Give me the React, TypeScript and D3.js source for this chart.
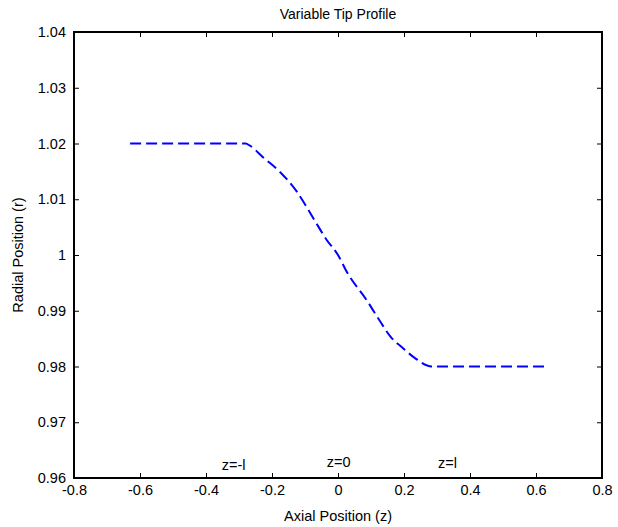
import * as d3 from "d3";
import React, { useEffect, useRef } from "react";

// profile
const zValues = [-0.63, -0.28, -0.2667, -0.2264, -0.1758, -0.1252, -0.0748, -0.0342, 0.0, 0.0264, 0.087, 0.1221, 0.1627, 0.193, 0.2333, 0.284, 0.63];
const rValues = [1.02, 1.02, 1.0196, 1.0175, 1.0149, 1.0114, 1.0066, 1.0027, 1.0, 0.997, 0.9919, 0.9886, 0.9851, 0.9835, 0.9815, 0.98, 0.98];

const xTicks = [-0.8, -0.6, -0.4, -0.2, 0, 0.2, 0.4, 0.6, 0.8];
const yTicks = [0.96, 0.97, 0.98, 0.99, 1, 1.01, 1.02, 1.03, 1.04];

const notes = [
  { text: "z=-l", z: -0.352, r: 0.9614 },
  { text: "z=0", z: -0.034, r: 0.9619 },
  { text: "z=l", z: 0.303, r: 0.9618 },
];

export default function App() {
  const ref = useRef<SVGSVGElement>(null);

  useEffect(() => {
    const svg = d3.select(ref.current);
    svg.selectAll("*").remove();

    const width = 618;
    const height = 527;
    const margin = { top: 32, right: 16, bottom: 49, left: 74 };
    const innerWidth = width - margin.left - margin.right;
    const innerHeight = height - margin.top - margin.bottom;
    const font = "'Liberation Sans', Arial, sans-serif";
    const fontSize = "14.5px";

    const x = d3.scaleLinear().domain([-0.8, 0.8]).range([0, innerWidth]);
    const y = d3.scaleLinear().domain([0.96, 1.04]).range([innerHeight, 0]);

    const g = svg.append("g").attr("transform", `translate(${margin.left},${margin.top})`);

    const fmt = (d: number) => (d === 0 ? "0" : d === 1 ? "1" : String(+d.toFixed(2)));

    const styleAxis = (sel: any, showLabels: boolean) => {
      sel.select(".domain").remove();
      sel.selectAll("line").attr("stroke", "#000").attr("stroke-width", 1);
      sel.selectAll("text").style("font-family", font).style("font-size", fontSize).attr("fill", "#000");
      if (!showLabels) sel.selectAll("text").remove();
    };

    // ticks on all four sides, pointing inward
    g.append("g").attr("transform", `translate(0,${innerHeight})`)
      .call(d3.axisBottom(x).tickValues(xTicks).tickFormat(fmt as any).tickSizeInner(-5).tickSizeOuter(0).tickPadding(7))
      .call((s) => styleAxis(s, true));
    g.append("g")
      .call(d3.axisTop(x).tickValues(xTicks).tickSizeInner(-5).tickSizeOuter(0))
      .call((s) => styleAxis(s, false));
    g.append("g")
      .call(d3.axisLeft(y).tickValues(yTicks).tickFormat(fmt as any).tickSizeInner(-5).tickSizeOuter(0).tickPadding(8))
      .call((s) => styleAxis(s, true));
    g.append("g").attr("transform", `translate(${innerWidth},0)`)
      .call(d3.axisRight(y).tickValues(yTicks).tickSizeInner(-5).tickSizeOuter(0))
      .call((s) => styleAxis(s, false));

    g.append("rect")
      .attr("width", innerWidth)
      .attr("height", innerHeight)
      .attr("fill", "none")
      .attr("stroke", "#000")
      .attr("stroke-width", 2);

    const data = zValues.map((z, i) => ({ z, r: rValues[i] }));
    const line = d3.line<{ z: number; r: number }>()
      .x((d) => x(d.z))
      .y((d) => y(d.r))
      .curve(d3.curveMonotoneX);

    g.append("path")
      .datum(data)
      .attr("fill", "none")
      .attr("stroke", "#0000ff")
      .attr("stroke-width", 2)
      .attr("stroke-dasharray", "11,5")
      .attr("d", line);

    g.selectAll(".note")
      .data(notes)
      .enter()
      .append("text")
      .attr("x", (d) => x(d.z))
      .attr("y", (d) => y(d.r))
      .style("font-family", font)
      .style("font-size", fontSize)
      .text((d) => d.text);

    svg.append("text")
      .attr("x", margin.left + innerWidth / 2)
      .attr("y", 19)
      .attr("text-anchor", "middle")
      .style("font-family", font)
      .style("font-size", "14px")
      .text("Variable Tip Profile");

    svg.append("text")
      .attr("x", margin.left + innerWidth / 2)
      .attr("y", 521)
      .attr("text-anchor", "middle")
      .style("font-family", font)
      .style("font-size", fontSize)
      .text("Axial Position (z)");

    svg.append("text")
      .attr("transform", "rotate(-90)")
      .attr("x", -(margin.top + innerHeight / 2))
      .attr("y", 23)
      .attr("text-anchor", "middle")
      .style("font-family", font)
      .style("font-size", fontSize)
      .text("Radial Position (r)");
  }, []);

  return (
    <svg
      ref={ref}
      width={618}
      height={527}
      style={{ position: "absolute", left: 0, top: 0, background: "#fff" }}
    />
  );
}
